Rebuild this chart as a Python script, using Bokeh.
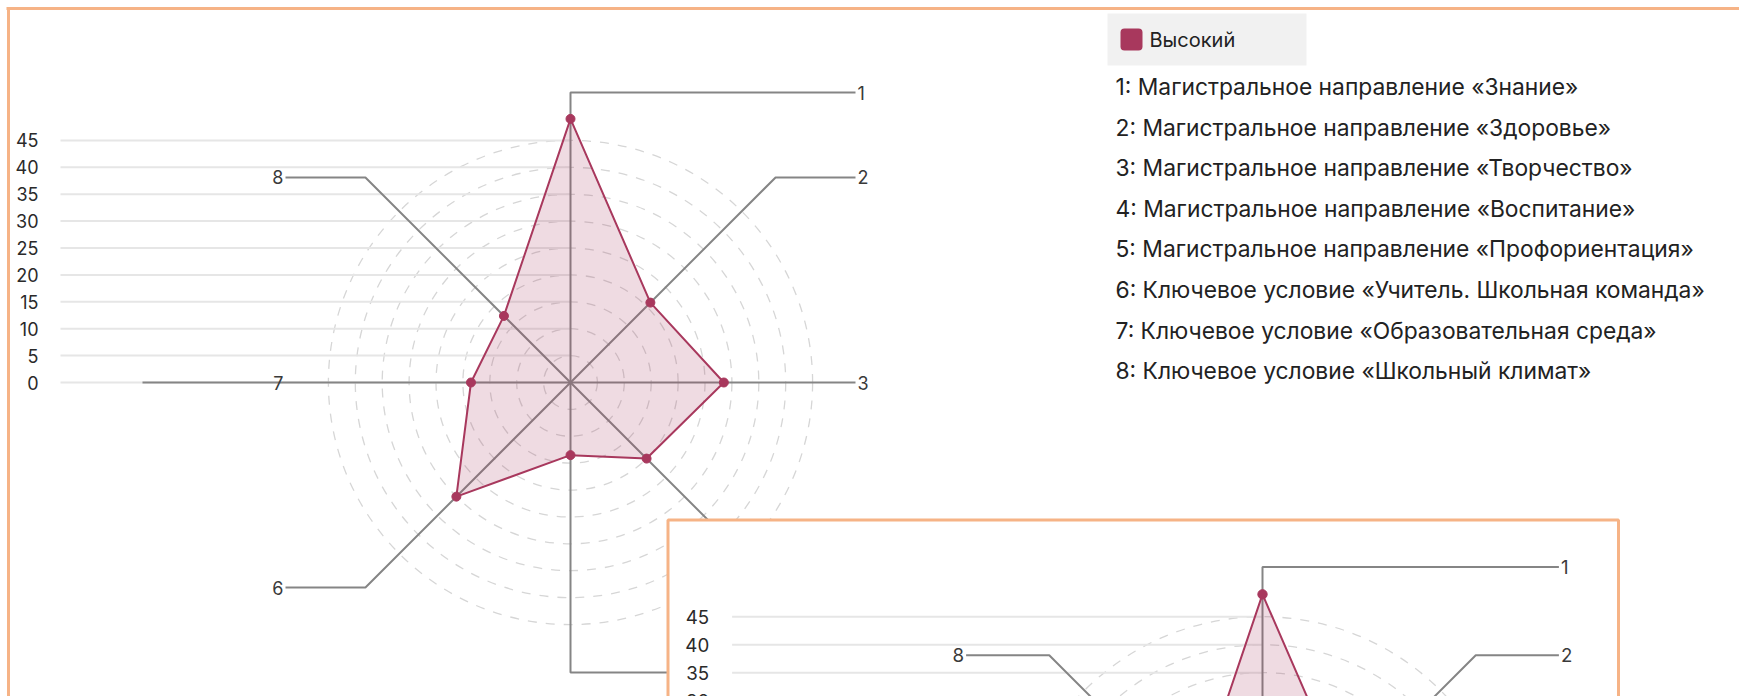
import math
from bokeh.plotting import figure
from bokeh.models import Range1d
from bokeh.core.properties import value
from bokeh.embed import file_html
from bokeh.resources import INLINE

# ---------------- data ----------------
categories = ["1", "2", "3", "4", "5", "6", "7", "8"]
values = [49, 21, 28.5, 20, 13.5, 30, 18.5, 17.5]
category_names = [
    "Магистральное направление «Знание»",
    "Магистральное направление «Здоровье»",
    "Магистральное направление «Творчество»",
    "Магистральное направление «Воспитание»",
    "Магистральное направление «Профориентация»",
    "Ключевое условие «Учитель. Школьная команда»",
    "Ключевое условие «Образовательная среда»",
    "Ключевое условие «Школьный климат»",
]
series_name = "Высокий"
ticks = [0, 5, 10, 15, 20, 25, 30, 35, 40, 45]

# ---------------- layout ----------------
W, H = 1739, 696
S = 5.38            # pixels per value unit
CX, CY = 570, 382   # main radar centre (page px)
FONT = "Inter"
SERIES_COLOR = "#a8385d"
AXIS_COLOR = "#858585"
BORDER_COLOR = "#f6b386"
INSET = (667.5, 519.5, 1618)   # left, top, right of the overlapping copy (page px)


def X(sx):
    return (sx - CX) / S


def Y(sy):
    return (CY - sy) / S


def page_xy(x, y):
    return x * S + CX, CY - y * S


def visible(x, y, hide_inset):
    sx, sy = page_xy(x, y)
    if sy > H + 6:
        return False
    if hide_inset and INSET[0] < sx < INSET[2] and sy > INSET[1]:
        return False
    return True


p = figure(width=W, height=H,
           x_range=Range1d(X(0), X(W)), y_range=Range1d(Y(H), Y(0)),
           output_backend="svg", toolbar_location=None, min_border=0)
p.axis.visible = False
p.grid.visible = False
p.outline_line_color = None
p.background_fill_color = "white"
p.border_fill_color = "white"

# outer frame (top and left edges visible)
p.segment(x0=[X(6), X(8)], y0=[Y(8), Y(6.5)], x1=[X(1800), X(8)], y1=[Y(8), Y(800)],
          line_color=BORDER_COLOR, line_width=3)


def draw_radar(ox, oy, k, hide_inset):
    n = len(values)
    ang = [2 * math.pi * i / n for i in range(n)]
    # dashed rings
    rings = [t for t in ticks if t > 0]
    p.circle(x=[ox] * len(rings), y=[oy] * len(rings), radius=[k * t for t in rings],
             fill_color=None, line_color="#d6d6d6", line_width=1.3, line_dash="9 9")
    # horizontal grid lines + tick labels
    gx0 = ox + k * X(60)
    p.segment(x0=[gx0] * len(ticks), x1=[ox] * len(ticks),
              y0=[oy + k * t for t in ticks], y1=[oy + k * t for t in ticks],
              line_color="#e6e6e6", line_width=2)
    tx, ty, tt = [], [], []
    for t in ticks:
        x_, y_ = ox + k * X(38), oy + k * t
        if visible(x_, y_, False):
            tx.append(x_)
            ty.append(y_)
            tt.append(str(t))
    p.text(x=tx, y=ty, text=tt, text_align="right", text_baseline="middle",
           text_font=value(FONT), text_font_size=f"{18 * k:.1f}px", text_color="#2a2a2a")
    # axes with leader lines
    Re = 290 / S
    Rend = 285 / S
    R7 = 428 / S
    xs, ys, labels = [], [], []
    for a, c in zip(ang, categories):
        sn, cs = math.sin(a), math.cos(a)
        side = -1 if sn < -1e-9 else 1
        if abs(abs(sn) - 1) < 1e-9:
            end = Rend if side > 0 else R7
            xx = [0, side * end]
            yy = [0, 0]
            yl = 0
        else:
            xe, ye = Re * sn, Re * cs
            xx = [0, xe, side * Rend]
            yy = [0, ye, ye]
            yl = ye
        xs.append([ox + k * v for v in xx])
        ys.append([oy + k * v for v in yy])
        lx = ox + k * side * (Rend + 2 / S)
        ly = oy + k * yl
        if visible(lx, ly, hide_inset):
            labels.append((lx, ly, c, "left" if side > 0 else "right"))
    p.multi_line(xs=xs, ys=ys, line_color=AXIS_COLOR, line_width=2)
    for lx, ly, c, al in labels:
        p.text(x=[lx], y=[ly], text=[c], text_align=al,
               text_baseline="middle", text_font=value(FONT),
               text_font_size=f"{18 * k:.1f}px", text_color="#3a3a3a")
    # series polygon
    px = [ox + k * v * math.sin(a) for v, a in zip(values, ang)]
    py = [oy + k * v * math.cos(a) for v, a in zip(values, ang)]
    p.patch(px, py, fill_color=SERIES_COLOR, fill_alpha=0.18,
            line_color=SERIES_COLOR, line_width=2)
    p.scatter(px, py, size=9 * k, fill_color=SERIES_COLOR, line_color=SERIES_COLOR)


draw_radar(0, 0, 1.0, True)

# legend
p.quad(left=[X(1107)], right=[X(1306)], top=[Y(13)], bottom=[Y(65)],
       fill_color="#f1f1f1", line_color=None)
p.quad(left=[X(1120)], right=[X(1142)], top=[Y(28)], bottom=[Y(50)],
       fill_color=SERIES_COLOR, line_color=None, border_radius=4)
p.text(x=[X(1149)], y=[Y(39)], text=[series_name], text_baseline="middle",
       text_font=value(FONT), text_font_size="20px", text_color="#222222")

# category list
p.text(x=[X(1115)] * len(categories),
       y=[Y(86 + 40.6 * i) for i in range(len(categories))],
       text=[f"{c}: {nm}" for c, nm in zip(categories, category_names)],
       text_baseline="middle", text_font=value(FONT), text_font_size="22.8px",
       text_color="#222222")

# overlapping second copy of the chart
p.quad(left=[X(INSET[0])], right=[X(INSET[2])], top=[Y(INSET[1])], bottom=[Y(900)],
       fill_color="white", line_color=BORDER_COLOR, line_width=3)
draw_radar(X(1262), Y(868), 1.04, False)

open("out.html", "w").write(file_html(p, INLINE))
